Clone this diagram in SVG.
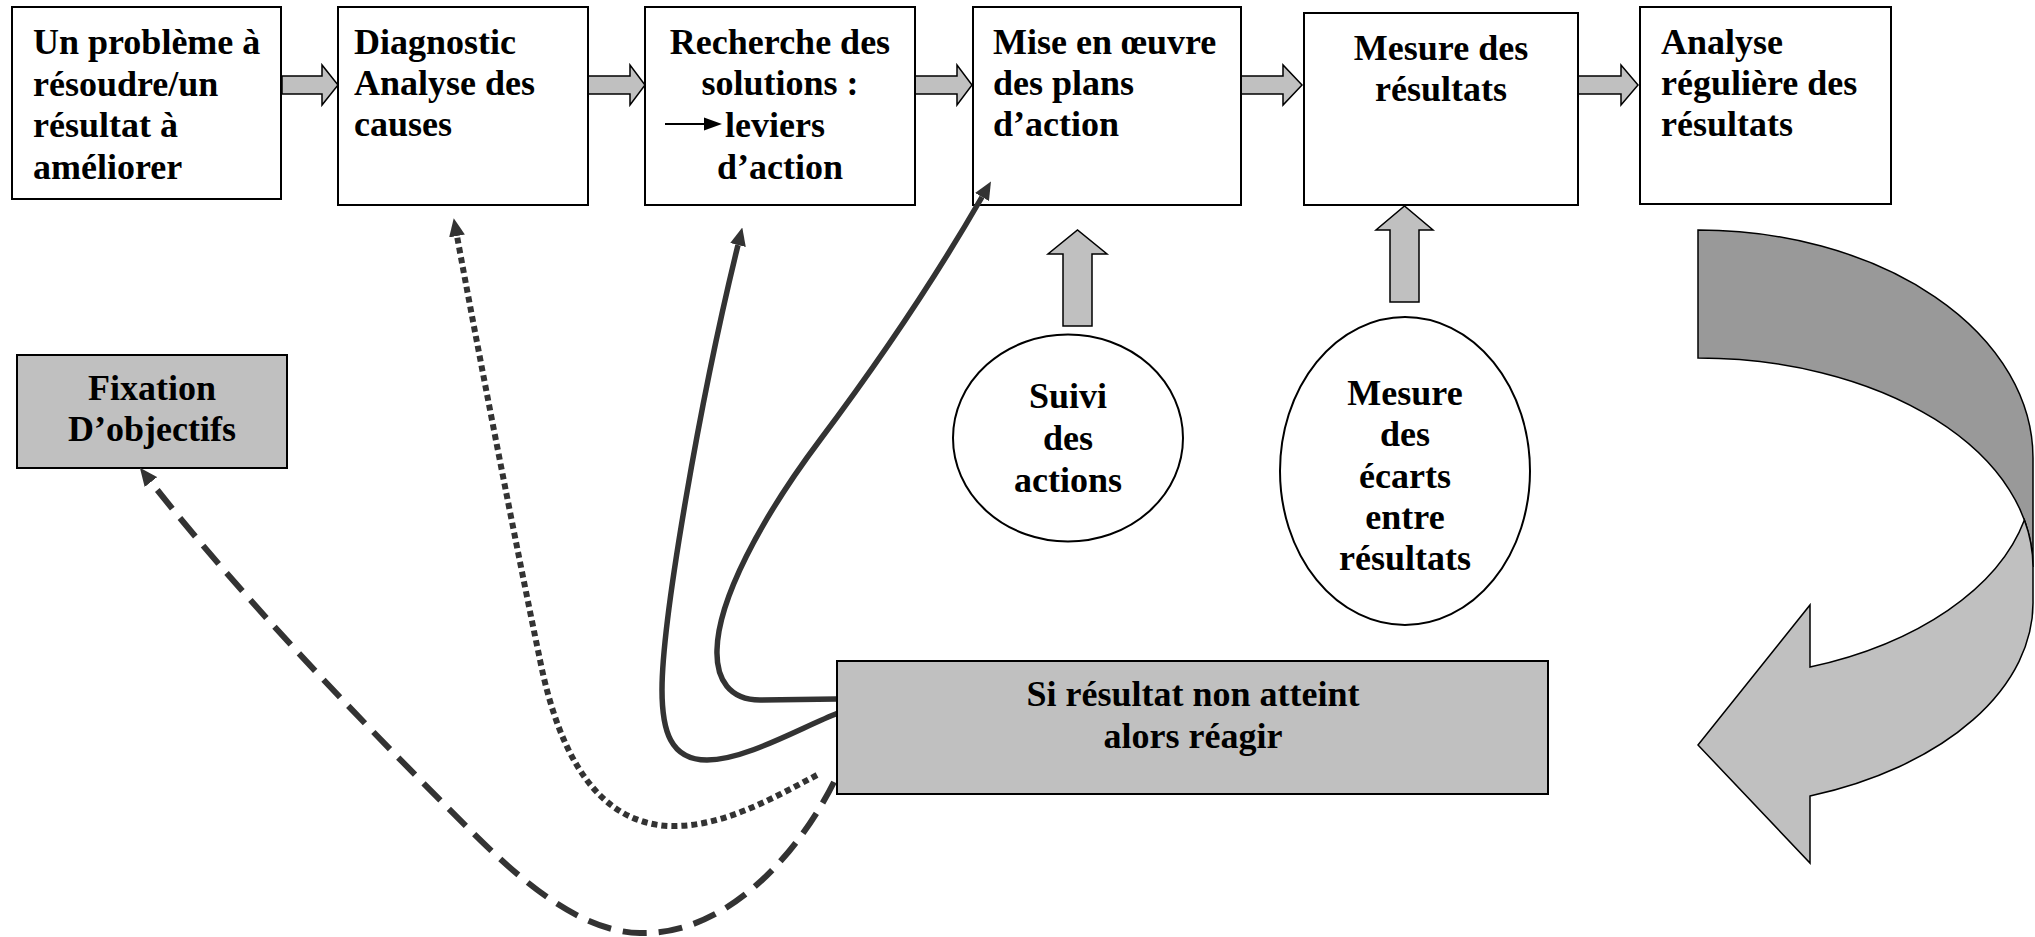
<svg xmlns="http://www.w3.org/2000/svg" width="2035" height="937" viewBox="0 0 2035 937">
<style>
.t{font-family:"Liberation Serif","Times New Roman",serif;font-weight:bold;font-size:36px;fill:#000}
.m{text-anchor:middle}
.box{fill:#fff;stroke:#000;stroke-width:2}
.gbox{fill:#c0c0c0;stroke:#000;stroke-width:2}
.blk{fill:#c0c0c0;stroke:#000;stroke-width:1.5;stroke-linejoin:miter}
.ell{fill:#fff;stroke:#000;stroke-width:2}
.con{fill:none;stroke:#333;stroke-width:5.5}
.dot{stroke-width:6;stroke-dasharray:6 4}
.dash{stroke-width:6;stroke-dasharray:24 12}
</style>
<defs>
<marker id="ah" viewBox="0 0 18 16" refX="0" refY="8" markerWidth="18" markerHeight="16" markerUnits="userSpaceOnUse" orient="auto"><path d="M0,0 L18,8 L0,16 Z" fill="#333"/></marker>
</defs>

<g id="bigarrow">
<path d="M1698,230 A335,228 0 0 1 2033,458 L2033,567 A335,209 0 0 0 1698,358 Z" fill="#999" stroke="#000" stroke-width="1.5"/>
<path d="M2024.4,520 A335,209 0 0 1 2033,567 L2033,600 A335,205 0 0 1 1810,796 L1810,863 L1698,745 L1810,605 L1810,667 A335,205 0 0 0 2024.4,520 Z" fill="#c0c0c0" stroke="#000" stroke-width="1.5"/>
</g>

<g id="flow-arrows">
<polygon class="blk" points="282,76 322,76 322,65 338,85 322,105 322,94 282,94"/>
<polygon class="blk" points="588,76 630,76 630,65 645,85 630,105 630,94 588,94"/>
<polygon class="blk" points="915,76 957,76 957,65 972,85 957,105 957,94 915,94"/>
<polygon class="blk" points="1241,76 1283,76 1283,65 1302,85 1283,105 1283,94 1241,94"/>
<polygon class="blk" points="1578,76 1621,76 1621,65 1638,85 1621,105 1621,94 1578,94"/>
<polygon class="blk" points="1063,326 1063,254 1048,254 1077.5,230 1107,254 1092,254 1092,326"/>
<polygon class="blk" points="1390,302 1390,230 1376,230 1404.5,206 1433,230 1419,230 1419,302"/>
</g>

<g id="n1">
<rect class="box" x="12" y="7" width="269" height="192"/>
<text class="t" x="33" y="54">Un problème à</text>
<text class="t" x="33" y="96">résoudre/un</text>
<text class="t" x="33" y="137">résultat à</text>
<text class="t" x="33" y="179">améliorer</text>
</g>
<g id="n2">
<rect class="box" x="338" y="7" width="250" height="198"/>
<text class="t" x="354" y="54">Diagnostic</text>
<text class="t" x="354" y="95">Analyse des</text>
<text class="t" x="354" y="136">causes</text>
</g>
<g id="n3">
<rect class="box" x="645" y="7" width="270" height="198"/>
<text class="t m" x="780" y="54">Recherche des</text>
<text class="t m" x="780" y="95">solutions :</text>
<line x1="665" y1="124" x2="706" y2="124" stroke="#000" stroke-width="1.8"/>
<polygon points="704,117.5 722,124 704,130.5" fill="#000"/>
<text class="t" x="725" y="137">leviers</text>
<text class="t m" x="780" y="179">d’action</text>
</g>
<g id="n4">
<rect class="box" x="973" y="7" width="268" height="198"/>
<text class="t" x="993" y="54">Mise en œuvre</text>
<text class="t" x="993" y="95">des plans</text>
<text class="t" x="993" y="136">d’action</text>
</g>
<g id="n5">
<rect class="box" x="1304" y="13" width="274" height="192"/>
<text class="t m" x="1441" y="60">Mesure des</text>
<text class="t m" x="1441" y="101">résultats</text>
</g>
<g id="n6">
<rect class="box" x="1640" y="7" width="251" height="197"/>
<text class="t" x="1661" y="54">Analyse</text>
<text class="t" x="1661" y="95">régulière des</text>
<text class="t" x="1661" y="136">résultats</text>
</g>
<g id="n7">
<rect class="gbox" x="17" y="355" width="270" height="113"/>
<text class="t m" x="152" y="400">Fixation</text>
<text class="t m" x="152" y="441">D’objectifs</text>
</g>
<g id="n8">
<ellipse class="ell" cx="1068" cy="438" rx="115" ry="103.5"/>
<text class="t m" x="1068" y="408">Suivi</text>
<text class="t m" x="1068" y="450">des</text>
<text class="t m" x="1068" y="492">actions</text>
</g>
<g id="n9">
<ellipse class="ell" cx="1405" cy="471" rx="125" ry="154"/>
<text class="t m" x="1405" y="405">Mesure</text>
<text class="t m" x="1405" y="446">des</text>
<text class="t m" x="1405" y="488">écarts</text>
<text class="t m" x="1405" y="529">entre</text>
<text class="t m" x="1405" y="570">résultats</text>
</g>

<g id="connectors">
<path class="con" d="M837,699 L760,700 C730,700 716,680 717,650 C718,600 760,520 820,440 C880,360 940,270 982,197" marker-end="url(#ah)"/>
<path class="con" d="M838,713 C800,728 745,760 707,760 C670,760 662,730 662,690 C662,620 700,400 738,245" marker-end="url(#ah)"/>
<path class="con dot" d="M817,775 C770,800 720,828 668,826 C600,822 560,760 540,660 C515,540 478,350 457,236" marker-end="url(#ah)"/>
<path class="con dash" d="M834,782 C800,850 730,935 640,933 C580,932 520,880 470,830 C380,740 250,608 151,482" marker-end="url(#ah)"/>
</g>

<g id="n10">
<rect class="gbox" x="837" y="661" width="711" height="133"/>
<text class="t m" x="1193" y="706">Si résultat non atteint</text>
<text class="t m" x="1193" y="748">alors réagir</text>
</g>
</svg>
